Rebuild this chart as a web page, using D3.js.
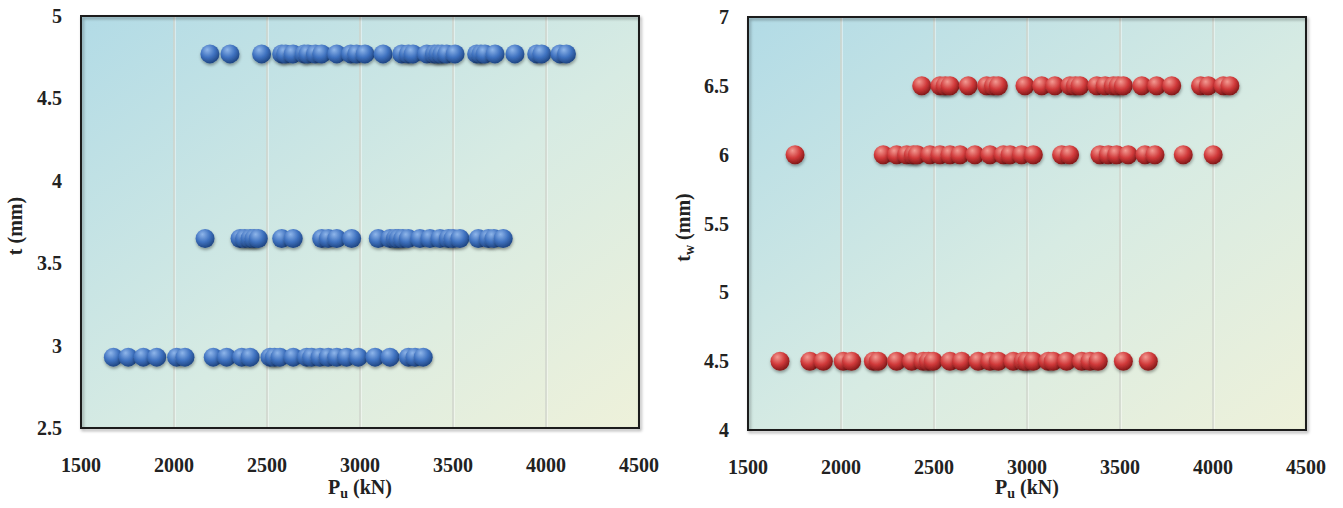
<!DOCTYPE html>
<html><head><meta charset="utf-8">
<script src="https://cdn.jsdelivr.net/npm/d3@7/dist/d3.min.js"></script>
<style>
html,body{margin:0;padding:0;background:#fff;}
svg text{font-family:"Liberation Serif","Times New Roman",serif;font-weight:bold;fill:#222;}
</style></head>
<body><svg id="c" width="1343" height="508"></svg>
<script>
// ---- data ----
const xTicks = [1500, 2000, 2500, 3000, 3500, 4000, 4500];
const tTicks = [2.5, 3, 3.5, 4, 4.5, 5];
const twTicks = [4, 4.5, 5, 5.5, 6, 6.5, 7];

const tLevels = [4.77, 3.65, 2.93];
const tRow1 = [2193, 2301, 2471, 2579, 2600, 2640, 2700, 2720, 2760, 2794, 2875, 2950, 2982, 3027, 3124, 3224, 3260, 3285, 3359, 3400, 3419, 3440, 3466, 3511, 3627, 3650, 3672, 3726, 3833, 3950, 3977, 4075, 4110];
const tRow2 = [2167, 2355, 2380, 2409, 2430, 2453, 2579, 2641, 2794, 2830, 2875, 2955, 3098, 3161, 3190, 3206, 3230, 3260, 3322, 3376, 3430, 3475, 3500, 3537, 3636, 3690, 3720, 3770];
const tRow3 = [1674, 1754, 1835, 1907, 2014, 2059, 2211, 2283, 2364, 2409, 2516, 2540, 2570, 2641, 2713, 2740, 2785, 2829, 2875, 2928, 2991, 3081, 3161, 3260, 3296, 3340];

const twLevels = [6.5, 6.0, 4.5];
const twRow1 = [2434, 2532, 2560, 2586, 2684, 2783, 2820, 2846, 2989, 3079, 3150, 3231, 3260, 3285, 3375, 3420, 3464, 3490, 3518, 3617, 3697, 3778, 3933, 3975, 4055, 4091];
const twRow2 = [1753, 2227, 2299, 2353, 2389, 2410, 2478, 2532, 2586, 2640, 2720, 2801, 2873, 2909, 2971, 3034, 3186, 3229, 3392, 3437, 3482, 3544, 3634, 3688, 3840, 4001];
const twRow3 = [1672, 1833, 1905, 2012, 2057, 2174, 2200, 2299, 2380, 2442, 2470, 2496, 2586, 2649, 2738, 2801, 2846, 2926, 2980, 3000, 3034, 3114, 3141, 3213, 3294, 3339, 3383, 3518, 3652];

// ---- drawing ----
const svg = d3.select("#c");
const defs = svg.append("defs");

function sphereGrad(id, light, mid, dark) {
  const g = defs.append("radialGradient").attr("id", id)
    .attr("cx", "40%").attr("cy", "32%").attr("r", "70%").attr("fx", "36%").attr("fy", "28%");
  g.append("stop").attr("offset", "0%").attr("stop-color", light);
  g.append("stop").attr("offset", "55%").attr("stop-color", mid);
  g.append("stop").attr("offset", "100%").attr("stop-color", dark);
}
sphereGrad("gBlue", "#8fb6ea", "#3f72c0", "#1d437f");
sphereGrad("gRed", "#f39a92", "#d0393a", "#7e1717");

const bg = defs.append("linearGradient").attr("id", "bgGrad")
  .attr("x1", "0%").attr("y1", "0%").attr("x2", "100%").attr("y2", "100%");
bg.append("stop").attr("offset", "0%").attr("stop-color", "#b2dbe6");
bg.append("stop").attr("offset", "55%").attr("stop-color", "#d7ebe3");
bg.append("stop").attr("offset", "100%").attr("stop-color", "#eef1da");

const shadow = defs.append("filter").attr("id", "dsh").attr("x", "-50%").attr("y", "-50%").attr("width", "200%").attr("height", "200%");
shadow.append("feDropShadow").attr("dx", 0.5).attr("dy", 2).attr("stdDeviation", 1.6)
  .attr("flood-color", "#000").attr("flood-opacity", 0.35);
const bsh = defs.append("filter").attr("id", "bsh").attr("x", "-5%").attr("y", "-5%").attr("width", "110%").attr("height", "110%");
bsh.append("feDropShadow").attr("dx", 1.5).attr("dy", 2).attr("stdDeviation", 1.5)
  .attr("flood-color", "#000").attr("flood-opacity", 0.35);

function panel(opt) {
  const {x0, x1, y0, y1, yDomain, yTicksArr, levels, rows, grad, yTitle, titleX, labelFmt} = opt;
  const x = d3.scaleLinear().domain([1500, 4500]).range([x0, x1]);
  const y = d3.scaleLinear().domain(yDomain).range([y1, y0]);
  const g = svg.append("g");

  g.append("rect").attr("x", x0).attr("y", y0).attr("width", x1 - x0).attr("height", y1 - y0)
    .attr("fill", "url(#bgGrad)");

  // gridlines
  const grid = xTicks.slice(1, -1);
  g.selectAll(".gl2").data(grid).enter().append("line")
    .attr("x1", d => x(d) + 1.2).attr("x2", d => x(d) + 1.2).attr("y1", y0).attr("y2", y1)
    .attr("stroke", "#ffffff").attr("stroke-opacity", 0.6).attr("stroke-width", 1);
  g.selectAll(".gl").data(grid).enter().append("line")
    .attr("x1", d => x(d)).attr("x2", d => x(d)).attr("y1", y0).attr("y2", y1)
    .attr("stroke", "#cfd3cb").attr("stroke-width", 1.4);

  // points
  levels.forEach((lv, i) => {
    g.append("g").selectAll("circle").data(rows[i]).enter().append("circle")
      .attr("cx", d => x(d)).attr("cy", y(lv)).attr("r", 9.5)
      .attr("fill", `url(#${grad})`).attr("filter", "url(#dsh)");
  });

  // border
  g.append("rect").attr("x", x0).attr("y", y0).attr("width", x1 - x0).attr("height", y1 - y0)
    .attr("fill", "none").attr("stroke", "#1e1e1e").attr("stroke-width", 2).attr("filter", "url(#bsh)");

  // x axis tick labels
  g.selectAll(".xl").data(xTicks).enter().append("text")
    .attr("x", d => x(d)).attr("y", y1 + 44).attr("text-anchor", "middle")
    .attr("font-size", 20).text(d => d);
  // y tick labels
  g.selectAll(".yl").data(yTicksArr).enter().append("text")
    .attr("x", x0 - 19).attr("y", d => y(d) + 7).attr("text-anchor", "end")
    .attr("font-size", 20).text(labelFmt);

  // x title
  const xt = g.append("text").attr("x", (x0 + x1) / 2).attr("y", 494)
    .attr("text-anchor", "middle").attr("font-size", 20);
  xt.append("tspan").text("P");
  xt.append("tspan").attr("font-size", 14).attr("dy", 4).text("u");
  xt.append("tspan").attr("dy", -4).text(" (kN)");

  // y title
  const yt = g.append("text").attr("transform", `translate(${titleX},${(y0 + y1) / 2 + 4}) rotate(-90)`)
    .attr("text-anchor", "middle").attr("font-size", 20);
  yt.append("tspan").text("t");
  if (yTitle === "tw") {
    yt.append("tspan").attr("font-size", 14).attr("dy", 4).text("w");
    yt.append("tspan").attr("dy", -4).text(" (mm)");
  } else {
    yt.append("tspan").text(" (mm)");
  }
}

panel({x0: 81, x1: 639, y0: 16, y1: 428, yDomain: [2.5, 5], yTicksArr: tTicks,
  levels: tLevels, rows: [tRow1, tRow2, tRow3], grad: "gBlue", yTitle: "t", titleX: 22,
  labelFmt: d => d});
panel({x0: 748, x1: 1306, y0: 17, y1: 430, yDomain: [4, 7], yTicksArr: twTicks,
  levels: twLevels, rows: [twRow1, twRow2, twRow3], grad: "gRed", yTitle: "tw", titleX: 690,
  labelFmt: d => d});
</script></body></html>
